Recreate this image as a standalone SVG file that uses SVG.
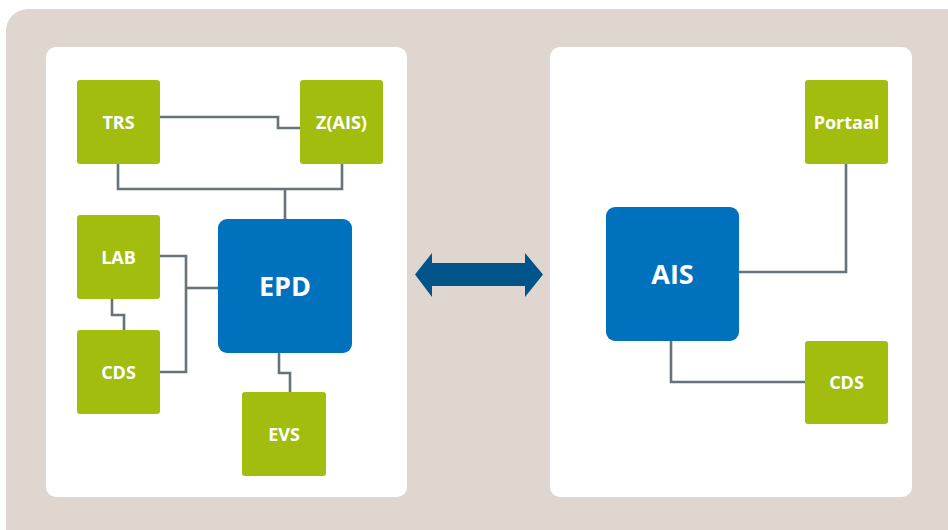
<svg xmlns="http://www.w3.org/2000/svg" width="948" height="530" viewBox="0 0 948 530">
<style>
.bg{fill:#dfd7cf}
.panel{fill:#ffffff}
.g{fill:#a3bd0f}
.b{fill:#0071bc}
.t{font-family:"Open Sans","Liberation Sans",sans-serif;font-weight:bold;fill:#ffffff;text-anchor:middle}
.s{font-size:18px}
.l{font-size:27px}
.c{fill:none;stroke:#66737a;stroke-width:2.6;stroke-linejoin:miter}
</style>
<rect class="bg" x="6" y="9" width="970" height="560" rx="22"/>
<rect class="panel" x="46" y="47" width="361" height="450" rx="10"/>
<rect class="panel" x="550" y="47" width="362" height="450" rx="10"/>
<g id="connectors">
<path class="c" d="M160 117 H278 V128 H300"/>
<path class="c" d="M118 164 V189 H342 V164"/>
<path class="c" d="M285 189 V219"/>
<path class="c" d="M112 299 V315 H124 V330"/>
<path class="c" d="M160 256 H186 V372 H160"/>
<path class="c" d="M186 288 H218"/>
<path class="c" d="M279 353 V373 H290 V392"/>
<path class="c" d="M846 164 V272 H739"/>
<path class="c" d="M671 341 V382 H805"/>
<path id="exchange" d="M415 274.5 L432 253 V263 H525 V253 L543 274.5 L525 297 V286 H432 V297 Z" fill="#00548a" stroke="none"/>
</g>
<g id="TRS"><rect class="g" x="77" y="80" width="83" height="84" rx="3"/><text class="t s" x="118.5" y="128.5">TRS</text></g>
<g id="ZAIS"><rect class="g" x="300" y="80" width="83" height="84" rx="3"/><text class="t s" x="341.5" y="128.5">Z(AIS)</text></g>
<g id="LAB"><rect class="g" x="77" y="215" width="83" height="84" rx="3"/><text class="t s" x="118.5" y="263.5">LAB</text></g>
<g id="CDS1"><rect class="g" x="77" y="330" width="83" height="84" rx="3"/><text class="t s" x="118.5" y="378.5">CDS</text></g>
<g id="EVS"><rect class="g" x="242" y="392" width="84" height="84" rx="3"/><text class="t s" x="284" y="440.5">EVS</text></g>
<g id="EPD"><rect class="b" x="218" y="219" width="134" height="134" rx="9"/><text class="t l" x="285" y="296">EPD</text></g>
<g id="Portaal"><rect class="g" x="805" y="80" width="83" height="84" rx="3"/><text class="t s" x="846.5" y="128.5">Portaal</text></g>
<g id="AIS"><rect class="b" x="606" y="207" width="133" height="134" rx="9"/><text class="t l" x="672.5" y="283.5">AIS</text></g>
<g id="CDS2"><rect class="g" x="805" y="341" width="83" height="83" rx="3"/><text class="t s" x="846.5" y="389">CDS</text></g>
</svg>
